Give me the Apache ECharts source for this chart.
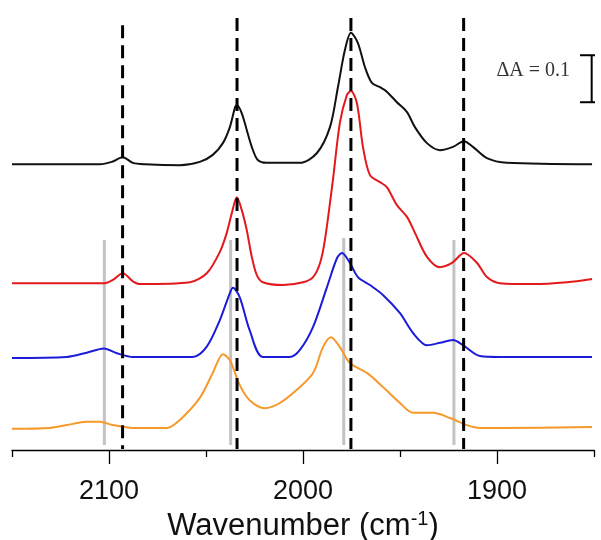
<!DOCTYPE html>
<html>
<head>
<meta charset="utf-8">
<script src="https://cdn.jsdelivr.net/npm/echarts@6/dist/echarts.min.js"></script>
<style>html,body{margin:0;padding:0;background:#fff;}#c{width:601px;height:540px;}</style>
</head>
<body>
<div id="c"></div>
<script>
// ---- data: [wavenumber (cm-1), offset absorbance] ----
const blackTrace = [[2150,0.606],[2104.7,0.606],[2098.6,0.611],[2092.9,0.621],[2087.7,0.609],[2081.5,0.606],[2063.5,0.604],[2053.2,0.611],[2046.5,0.626],[2041.3,0.651],[2037.7,0.685],[2035.1,0.726],[2034.1,0.732],[2031.6,0.715],[2029.0,0.679],[2026.4,0.643],[2023.3,0.615],[2018.6,0.609],[2001.6,0.609],[1992.8,0.630],[1986.1,0.685],[1982.0,0.770],[1978.4,0.849],[1975.3,0.886],[1971.7,0.864],[1968.1,0.813],[1964.5,0.779],[1960.3,0.770],[1956.7,0.760],[1951.6,0.738],[1946.4,0.717],[1942.3,0.685],[1936.1,0.651],[1929.4,0.636],[1922.7,0.643],[1917.0,0.655],[1912.4,0.643],[1905.2,0.619],[1894.9,0.609],[1851.0,0.606]];
const redTrace = [[2150,0.353],[2102.2,0.353],[2098.0,0.360],[2092.9,0.374],[2087.7,0.357],[2084.1,0.351],[2058.3,0.355],[2049.6,0.374],[2042.9,0.419],[2039.3,0.460],[2036.7,0.502],[2034.1,0.536],[2031.6,0.509],[2029.0,0.466],[2026.4,0.409],[2023.8,0.370],[2020.7,0.355],[2010.4,0.349],[2000.0,0.355],[1994.8,0.366],[1991.2,0.396],[1988.7,0.445],[1984.6,0.572],[1981.0,0.694],[1977.4,0.753],[1975.3,0.762],[1972.2,0.736],[1969.1,0.643],[1965.5,0.583],[1960.3,0.568],[1956.7,0.557],[1951.6,0.519],[1946.4,0.494],[1942.3,0.460],[1936.1,0.409],[1929.4,0.387],[1923.2,0.396],[1917.0,0.417],[1910.3,0.396],[1905.2,0.366],[1898.5,0.353],[1881.4,0.351],[1863.9,0.355],[1851.0,0.362]];
const blueTrace = [[2150,0.194],[2121.8,0.196],[2111.5,0.205],[2102.6,0.214],[2096.0,0.204],[2087.7,0.196],[2056.8,0.196],[2049.6,0.218],[2042.9,0.274],[2037.7,0.332],[2036.1,0.343],[2032.6,0.323],[2027.5,0.253],[2020.7,0.196],[2006.8,0.196],[2001.6,0.211],[1994.8,0.260],[1987.6,0.345],[1982.5,0.406],[1979.9,0.417],[1975.8,0.396],[1971.7,0.366],[1965.5,0.349],[1958.8,0.328],[1950.0,0.289],[1943.3,0.247],[1936.1,0.221],[1929.4,0.226],[1922.7,0.232],[1917.5,0.221],[1908.8,0.198],[1898.5,0.196],[1851.0,0.196]];
const orangeTrace = [[2150,0.043],[2130.5,0.045],[2121.8,0.051],[2111.5,0.058],[2104.7,0.058],[2098.0,0.051],[2087.7,0.045],[2070.2,0.045],[2063.5,0.062],[2053.2,0.109],[2046.5,0.162],[2041.3,0.202],[2037.7,0.189],[2032.6,0.136],[2027.5,0.104],[2019.7,0.087],[2011.9,0.098],[2003.2,0.126],[1994.8,0.162],[1989.7,0.217],[1985.6,0.238],[1981.0,0.217],[1975.8,0.183],[1967.0,0.162],[1958.8,0.132],[1950.0,0.098],[1943.3,0.077],[1933.0,0.077],[1924.2,0.066],[1915.5,0.051],[1908.8,0.045],[1898.5,0.045],[1851.0,0.047]];

const dashedPositions = [2093, 2034, 1975.3, 1917.2];
const dashedTops = [0.902, 0.917, 0.917, 0.917];
const dashedBottom = 0.0;
const grayPositions = [2102.4, 2037.3, 1979, 1922.2];
const grayTops = [0.445, 0.445, 0.449, 0.445];
const grayBottom = 0.0085;

const majorTicks = [2100, 2000, 1900];
const minorTicks = [2150, 2050, 1950, 1850];
const scaleBarValue = 0.1;           // ΔA
const scaleBarX = 1851.2;
const scaleBarCap = [1857.2, 1846.3];
const scaleBarTop = 0.838;
const scaleBarLabel = 'ΔA = 0.1';
const axisTitle = 'Wavenumber (cm';

// ---- chart ----
const chart = echarts.init(document.getElementById('c'), null, {renderer: 'canvas'});

const series = [];
grayPositions.forEach((w, i) => {
  series.push({type: 'line', xAxisIndex: 0, yAxisIndex: 0, data: [[w, grayTops[i]], [w, grayBottom]],
    symbol: 'none', silent: true, lineStyle: {color: '#c3c3c3', width: 3}, z: 1});
});
const traces = [[blackTrace, '#111111'], [redTrace, '#e3191c'], [blueTrace, '#1b1bd9'], [orangeTrace, '#f7992a']];
traces.forEach(([d, c]) => {
  series.push({type: 'line', xAxisIndex: 0, yAxisIndex: 0, data: d, symbol: 'none', smooth: 0.3,
    silent: true, lineStyle: {color: c, width: 2}, z: 2});
});
dashedPositions.forEach((w, i) => {
  series.push({type: 'line', xAxisIndex: 0, yAxisIndex: 0, data: [[w, dashedTops[i]], [w, dashedBottom]],
    symbol: 'none', silent: true, lineStyle: {color: '#000', width: 3, type: [13, 7]}, z: 3});
});
// scale bar
const sbBottom = scaleBarTop - scaleBarValue;
series.push({type: 'line', xAxisIndex: 0, yAxisIndex: 0, clip: false, symbol: 'none', silent: true,
  data: [[scaleBarX, scaleBarTop], [scaleBarX, sbBottom]], lineStyle: {color: '#000', width: 2}, z: 3});
series.push({type: 'line', xAxisIndex: 0, yAxisIndex: 0, clip: false, symbol: 'none', silent: true,
  data: [[scaleBarCap[0], scaleBarTop], [scaleBarCap[1], scaleBarTop]], lineStyle: {color: '#000', width: 2}, z: 3});
series.push({type: 'line', xAxisIndex: 0, yAxisIndex: 0, clip: false, symbol: 'none', silent: true,
  data: [[scaleBarCap[0], sbBottom], [scaleBarCap[1], sbBottom]], lineStyle: {color: '#000', width: 2}, z: 3});

const fontSans = 'Liberation Sans, Arial, sans-serif';
chart.setOption({
  animation: false,
  backgroundColor: '#fff',
  grid: [{left: 12, right: 7, top: 2.6, bottom: 90, outerBoundsMode: 'none'}],
  xAxis: [
    {gridIndex: 0, type: 'value', position: 'bottom', min: 1850, max: 2150, inverse: true,
     axisLine: {show: true, onZero: false, lineStyle: {color: '#000', width: 1.3}},
     axisTick: {show: true, length: 14, customValues: majorTicks, lineStyle: {color: '#000', width: 1.3}},
     axisLabel: {show: true, customValues: majorTicks, margin: 28, fontSize: 27, color: '#111', fontFamily: fontSans,
       formatter: v => String(v)},
     splitLine: {show: false},
     name: '{a|' + axisTitle + '}{s|-1}{a|)}', nameLocation: 'middle', nameGap: 59,
     nameTextStyle: {
       rich: {
         a: {fontFamily: fontSans, fontSize: 31, color: '#111', lineHeight: 34},
         s: {fontFamily: fontSans, fontSize: 20, color: '#111', verticalAlign: 'top', lineHeight: 20}
       }
     }
    },
    {gridIndex: 0, type: 'value', position: 'bottom', offset: 0, min: 1850, max: 2150, inverse: true,
     axisLine: {show: false, onZero: false},
     axisTick: {show: true, length: 7, customValues: minorTicks, lineStyle: {color: '#000', width: 1.3}},
     axisLabel: {show: false}, splitLine: {show: false}}
  ],
  yAxis: [{gridIndex: 0, type: 'value', min: -0.002, max: 0.95, show: false}],
  graphic: [
    {type: 'text', right: 31, top: 61, style: {text: scaleBarLabel, font: '20px "Liberation Serif", "Times New Roman", serif', fill: '#333'}}
  ],
  series: series
});
</script>
</body>
</html>
